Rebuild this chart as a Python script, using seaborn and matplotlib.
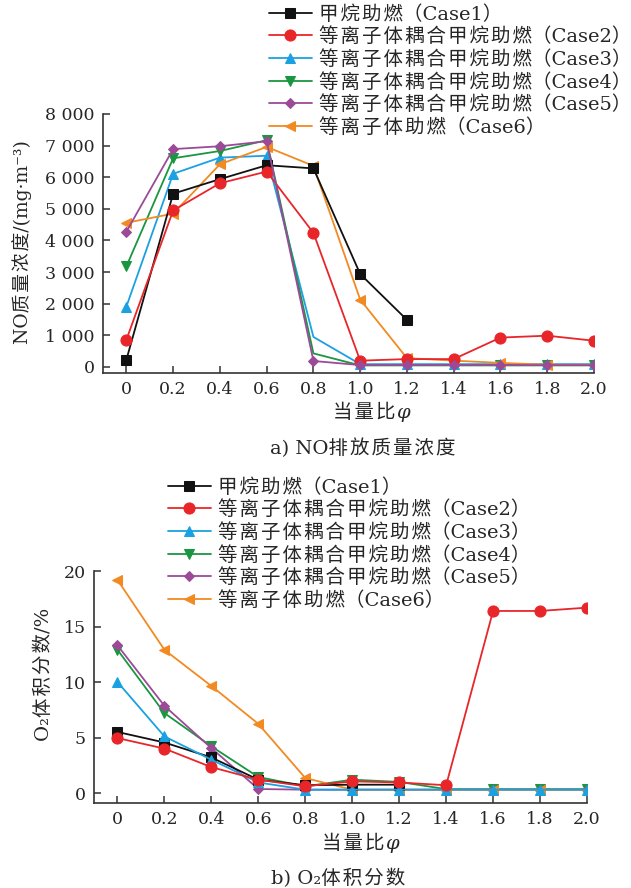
import numpy as np
import pandas as pd
import matplotlib
matplotlib.use("Agg")
import matplotlib.pyplot as plt
import seaborn as sns

# Equivalence ratio
phi = [0.0, 0.2, 0.4, 0.6, 0.8, 1.0, 1.2, 1.4, 1.6, 1.8, 2.0]

labels = [
    "甲烷助燃（Case1）",
    "等离子体耦合甲烷助燃（Case2）",
    "等离子体耦合甲烷助燃（Case3）",
    "等离子体耦合甲烷助燃（Case4）",
    "等离子体耦合甲烷助燃（Case5）",
    "等离子体助燃（Case6）",
]

# NO mass concentration, mg/m^3
no_case1 = [230, 5480, 5940, 6380, 6280, 2940, 1490]
no_case2 = [860, 4950, 5810, 6180, 4240, 200, 250, 250, 930, 990, 830]
no_case3 = [1910, 6110, 6620, 6680, 950, 90, 90, 90, 90, 90, 90]
no_case4 = [3180, 6600, 6830, 7170, 430, 50, 50, 50, 50, 50, 50]
no_case5 = [4280, 6890, 6980, 7140, 190, 60, 60, 60, 60, 60, 60]
no_case6 = [4560, 4850, 6410, 6960, 6360, 2130, 280, 200, 130, 70, 70]

# O2 volume fraction, %
o2_case1 = [5.5, 4.55, 3.2, 1.2, 0.7, 0.75, 0.75]
o2_case2 = [4.95, 4.0, 2.33, 1.2, 0.6, 1.05, 0.95, 0.7, 16.4, 16.4, 16.7]
o2_case3 = [10.0, 5.1, 3.0, 0.95, 0.3, 0.3, 0.3, 0.3, 0.3, 0.3, 0.3]
o2_case4 = [12.9, 7.2, 4.2, 1.44, 0.6, 1.2, 1.0, 0.35, 0.35, 0.35, 0.35]
o2_case5 = [13.3, 7.85, 4.04, 0.36, 0.3, 0.3, 0.3, 0.3, 0.3, 0.3, 0.3]
o2_case6 = [19.2, 12.9, 9.64, 6.23, 1.35, 0.3, 0.3, 0.3, 0.3, 0.3, 0.3]

no_series = [no_case1, no_case2, no_case3, no_case4, no_case5, no_case6]
o2_series = [o2_case1, o2_case2, o2_case3, o2_case4, o2_case5, o2_case6]

colors = ["#111111", "#e8262a", "#1ba1e2", "#1a9641", "#9c4a98", "#f28a22"]
markers = ["s", "o", "^", "v", "D", "<"]
msizes = [6.5, 8, 7.5, 7.5, 5.5, 7.5]

# stacking order of the series in each panel
no_z = [2.4, 2.5, 2.1, 2.2, 2.6, 2.3]
o2_z = [2.4, 2.6, 2.5, 2.1, 2.2, 2.3]
# points drawn without a marker in the NO panel (Case3 and Case4 at 0.8)
no_skip = [[], [], [4], [4], [], []]

sns.set_theme(style="ticks")
plt.rcParams["font.family"] = ["DejaVu Serif", "Noto Sans CJK SC", "DejaVu Sans"]
plt.rcParams["axes.unicode_minus"] = False
plt.rcParams["xtick.direction"] = "in"
plt.rcParams["ytick.direction"] = "in"

HAIR = "\u200a"


def spaced(s):
    """Put a hair space between consecutive CJK characters."""
    out = ""
    for i, ch in enumerate(s):
        out += ch
        if i + 1 < len(s) and ord(ch) > 0x2E80 and ord(s[i + 1]) > 0x2E80 \
                and ch not in "（）" and s[i + 1] not in "（）":
            out += HAIR
    return out


W, H = 631, 888
fig = plt.figure(figsize=(W / 100, H / 100), dpi=100)
fig.patch.set_facecolor("white")


def px_axes(l, t, r, b):
    return fig.add_axes([l / W, 1 - b / H, (r - l) / W, (b - t) / H])


ax1 = px_axes(103, 114, 594, 373)
ax2 = px_axes(94, 571, 587, 803)

txt_color = "#262626"


def draw(ax, series, zorders, skip=None):
    lines = []
    for i, (vals, lab, c, m, ms, z) in enumerate(
            zip(series, labels, colors, markers, msizes, zorders)):
        df = pd.DataFrame({"phi": phi[:len(vals)], "val": vals})
        every = [k for k in range(len(vals)) if not skip or k not in skip[i]]
        sns.lineplot(data=df, x="phi", y="val", ax=ax, color=c, marker=m,
                     markersize=ms, markeredgecolor=c, linewidth=1.3,
                     label=lab, estimator=None, sort=False, zorder=z,
                     markevery=every)
        lines.append(ax.lines[-1])
    return lines


def style(ax):
    for s in ["top", "right"]:
        ax.spines[s].set_visible(False)
    for s in ["left", "bottom"]:
        ax.spines[s].set_color("#333333")
        ax.spines[s].set_linewidth(1.2)
    ax.set_xlim(-0.1, 2.0)
    ax.set_xticks(phi)
    ax.set_xticklabels(["0"] + [f"{v:.1f}" for v in phi[1:]])
    ax.tick_params(axis="both", labelsize=12.5, colors="#333333",
                   labelcolor=txt_color, length=5, width=1.1, pad=6)
    ax.set_xlabel("")
    ax.set_ylabel("")
    ax.get_legend().remove()
    ax.set_facecolor("white")


handles = draw(ax1, no_series, no_z, no_skip)
style(ax1)
ax1.set_ylim(-190, 8000)
ax1.set_yticks(np.arange(0, 8001, 1000))
ax1.set_yticklabels(["0"] + [f"{v // 1000} 000" for v in range(1000, 8001, 1000)])

draw(ax2, o2_series, o2_z)
style(ax2)
ax2.set_ylim(-0.9, 20)
ax2.set_yticks([0, 5, 10, 15, 20])

lab_fs = 14
fig.text(22 / W, 1 - 242 / H, spaced("NO质量浓度/(mg·m⁻³)"), rotation=90,
         ha="center", va="center", fontsize=13.5, color=txt_color)
fig.text(363 / W, 1 - 448 / H, spaced("a) NO排放质量浓度"), ha="center",
         va="center", fontsize=lab_fs, color=txt_color)

fig.text(44 / W, 1 - 674 / H, spaced("O₂体积分数/%"), rotation=90,
         ha="center", va="center", fontsize=lab_fs, color=txt_color)
fig.text(338 / W, 1 - 878 / H, spaced("b) O₂体积分数"), ha="center",
         va="center", fontsize=lab_fs, color=txt_color)

# x-axis label: CJK part upright, phi in italic right after it
renderer = fig.canvas.get_renderer()
for left_px, y_px in [(333, 418), (322, 849)]:
    t1 = fig.text(left_px / W, 1 - y_px / H, spaced("当量比"), ha="left",
                  va="baseline", fontsize=lab_fs, color=txt_color)
    bb = t1.get_window_extent(renderer)
    fig.text((bb.x1 + 1) / W, 1 - y_px / H, "φ", ha="left", va="baseline",
             fontsize=lab_fs, color=txt_color, fontstyle="italic",
             family="DejaVu Serif")

leg_labels = [spaced(l) for l in labels]
leg_kw = dict(frameon=False, fontsize=14, handlelength=2.2,
              handletextpad=0.35, labelspacing=0.2, borderpad=0,
              borderaxespad=0, loc="upper left", labelcolor=txt_color)
fig.legend(handles, leg_labels, bbox_to_anchor=(269 / W, 1 - 5 / H), **leg_kw)
fig.legend(handles, leg_labels, bbox_to_anchor=(168 / W, 1 - 478 / H), **leg_kw)

fig.savefig("out.png", dpi=100, facecolor="white")
